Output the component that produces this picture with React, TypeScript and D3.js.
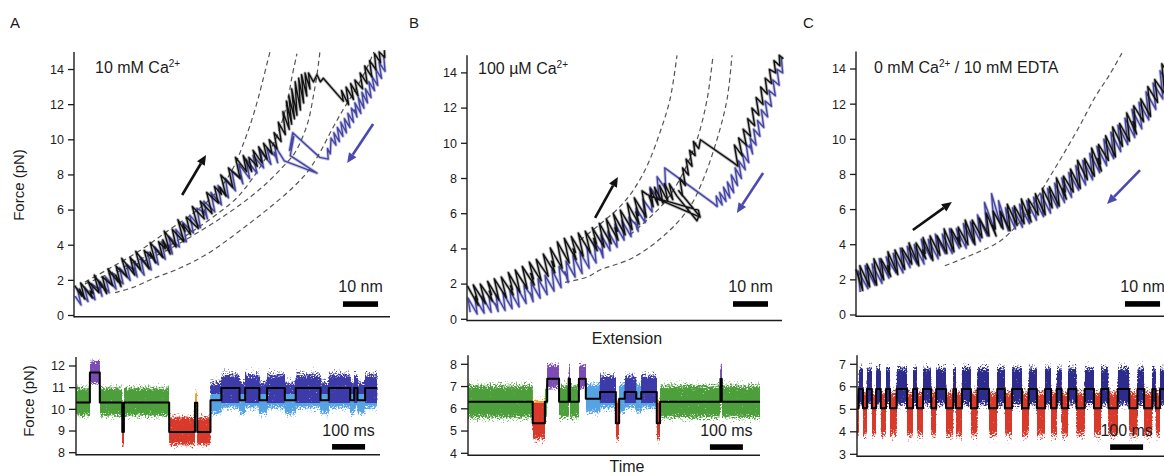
import React from "react";
import * as d3 from "d3";

type Pt = [number, number];
type Dwell = [number, number, string];

// ================= TOP PANELS: force (pN) vs extension (nm) =================
const forceTicksTop = [0, 2, 4, 6, 8, 10, 12, 14];

// Panel A — stretching (black) and relaxing (blue) traces
const A_stretch: Pt[] = [
  [0.2,1.7],[2.2,1.1],[1.6,1.5],[3.0,0.95],[1.9,1.85],[5.2,1.0],[4.6,1.4],[5.4,1.25],[4.0,1.95],[7.1,1.3],
  [5.8,2.3],[8.0,1.6],[7.4,1.9],[9.3,1.25],[8.1,2.2],[11.0,1.7],[9.7,2.65],[12.6,1.9],[11.9,2.3],[13.4,1.65],
  [12.0,2.8],[15.1,2.2],[13.6,3.25],[17.3,2.3],[16.6,2.7],[17.0,2.5],[16.0,3.3],[19.0,2.6],[17.6,3.65],[21.4,2.65],
  [20.0,3.7],[22.2,3.3],[21.7,3.6],[23.2,3.0],[21.7,4.15],[25.3,3.3],[24.1,4.2],[26.0,3.8],[25.3,4.3],[27.4,3.5],
  [25.7,4.8],[29.1,3.9],[28.0,4.9],[31.3,4.2],[29.6,5.45],[31.6,4.8],[31.0,5.2],[33.2,4.6],[32.0,5.6],[35.4,4.95],
  [33.7,6.2],[37.1,5.5],[36.6,5.9],[37.0,5.7],[36.0,6.5],[39.3,5.8],[37.8,7.0],[41.1,6.4],[40.0,7.35],[42.0,6.9],
  [41.5,7.3],[43.3,6.8],[41.8,8.0],[45.2,7.3],[44.0,8.4],[47.3,7.8],[46.0,9.0],[49.1,8.2],[48.2,9.1],[50.6,8.2],
  [49.8,9.0],[52.2,8.5],[51.0,9.4],[53.5,8.7],[52.6,9.6],[55.0,8.9],[54.0,9.8],[56.4,9.2],[55.6,10.0],[57.8,9.5],
  [57.0,10.4],[59.0,9.9],[58.2,11.0],[60.2,10.3],[59.5,11.6],[61.3,10.6],[60.5,12.2],[62.0,10.9],[61.2,12.5],[62.8,11.2],
  [62.0,12.9],[63.5,11.4],[63.0,13.3],[64.5,11.7],[64.0,13.5],[65.4,12.1],[64.8,13.7],[66.3,12.5],[65.8,13.8],[67.2,12.9],
  [66.8,13.8],[68.2,13.3],[69.2,13.7],[70.2,13.3],[71.0,13.5],[76.7,12.2],[76.2,12.8],[78.2,12.0],[77.5,13.0],[79.6,12.3],
  [78.8,13.2],[80.9,12.5],[80.0,13.4],[82.2,12.9],[81.5,13.8],[83.5,13.2],[82.8,14.2],[84.8,13.6],[84.2,14.5],[86.0,14.0],
  [85.6,14.9],[87.3,14.4],[86.9,15.0],[88.5,14.7],[88.4,15.1],
];
const A_relax: Pt[] = [
  [88.2,14.8],[88.6,13.9],[86.9,14.4],[87.6,13.5],[86.0,14.0],[86.5,13.1],[84.9,13.6],[85.6,12.8],[84.0,13.3],[84.6,12.4],
  [83.0,12.9],[83.6,12.1],[82.0,12.7],[82.6,11.8],[81.0,12.4],[81.7,11.5],[80.0,12.1],[80.6,11.3],[79.9,11.7],[80.3,11.5],
  [79.0,11.8],[79.6,11.0],[78.0,11.5],[78.6,10.7],[77.0,11.2],[77.6,10.4],[76.0,11.0],[76.6,10.2],[75.0,10.7],[75.6,9.9],
  [74.0,10.4],[74.6,9.7],[73.2,10.1],[73.0,9.2],[72.2,9.5],[72.4,8.9],[70.0,9.0],[62.3,10.4],[61.4,9.4],[62.6,10.2],
  [61.6,9.1],[69.2,8.1],[59.9,8.8],[57.1,9.7],[58.0,8.7],[57.0,9.3],[57.6,9.0],[55.0,9.5],[56.1,8.6],[53.0,9.4],
  [54.0,8.4],[51.0,9.1],[52.1,8.1],[49.0,8.9],[50.0,7.8],[47.0,8.6],[48.1,7.5],[47.2,8.0],[47.8,7.8],[45.0,8.2],
  [46.0,7.1],[43.1,7.8],[44.0,6.7],[41.0,7.4],[42.0,6.3],[39.0,7.0],[40.1,5.9],[37.0,6.5],[38.0,5.5],[37.1,6.0],
  [37.7,5.8],[35.0,6.1],[36.0,5.0],[33.0,5.7],[34.0,4.7],[31.0,5.3],[32.0,4.2],[29.0,4.9],[30.0,3.9],[27.0,4.5],
  [28.0,3.5],[27.1,4.0],[27.7,3.8],[25.0,4.2],[26.0,3.2],[23.0,3.9],[24.0,2.9],[21.0,3.6],[22.0,2.6],[19.0,3.3],
  [20.0,2.3],[17.0,3.1],[18.0,2.2],[17.1,2.7],[17.7,2.5],[15.0,2.9],[16.0,2.0],[13.0,2.7],[14.0,1.8],[11.0,2.4],
  [12.0,1.5],[9.0,2.2],[10.0,1.3],[7.0,2.0],[8.0,1.1],[7.1,1.6],[7.7,1.4],[5.0,1.8],[6.0,0.9],[3.0,1.6],
  [4.0,0.8],[1.0,1.5],[2.0,0.6],[0.3,1.1],
];
const A_wlc1: Pt[] = [[3.1,1.9],[10.3,2.7],[18.8,3.7],[27.3,4.9],[34.5,5.9],[39.6,6.8],[43.3,7.7],[46.1,8.7],[48.1,9.7],[50.1,10.8],[52.1,12.1],[53.8,13.4],[55.8,15.0]];
const A_wlc2: Pt[] = [[3.1,1.8],[10.3,2.4],[18.8,3.2],[27.3,4.0],[35.3,5.0],[41.6,5.9],[46.4,6.7],[50.1,7.6],[53.5,8.6],[56.4,9.6],[58.7,10.7],[60.7,12.1],[62.1,13.6],[63.5,14.9]];
const A_wlc3: Pt[] = [[10.3,2.3],[18.8,3.0],[27.3,3.8],[35.9,4.8],[43.0,5.7],[49.3,6.6],[54.7,7.5],[59.2,8.4],[62.7,9.2],[65.2,10.2],[66.9,11.2],[68.1,12.4],[69.2,13.7],[70.1,15.1]];
const A_wlc4: Pt[] = [[11.7,1.3],[16.8,1.6],[22.5,2.1],[30.2,2.7],[37.9,3.5],[44.4,4.4],[51.0,5.4],[56.7,6.3],[62.4,7.3],[66.6,8.2],[70.1,9.3],[73.5,10.6],[76.6,11.7],[80.0,12.8],[83.2,14.0],[85.4,15.0]];
const A_arrowStretch: Pt[] = [[30.8,6.86],[37.6,9.14]];
const A_arrowRelax: Pt[] = [[85.2,10.9],[77.8,8.68]];

// Panel B
const B_stretch: Pt[] = [
  [0.1,1.9],[3.2,0.8],[2.4,1.3],[3.0,1.1],[1.8,1.95],[5.2,0.9],[3.8,2.0],[7.2,1.05],[6.4,1.6],[7.0,1.4],
  [5.9,2.15],[9.1,1.1],[7.8,2.3],[11.2,1.25],[9.8,2.4],[13.2,1.4],[12.4,1.9],[13.0,1.7],[11.8,2.65],[15.1,1.55],
  [13.8,2.8],[17.2,1.75],[15.8,3.0],[19.2,1.95],[18.2,2.6],[19.0,2.3],[17.8,3.25],[21.2,2.2],[19.8,3.4],[23.2,2.45],
  [21.8,3.7],[25.1,2.65],[24.2,3.3],[25.0,3.0],[23.8,4.05],[27.2,2.9],[25.8,4.4],[29.2,3.2],[27.8,4.6],[31.2,3.4],
  [30.3,4.0],[31.0,3.8],[29.8,4.7],[33.2,3.6],[31.8,4.9],[35.2,3.8],[33.8,5.0],[37.2,3.9],[36.2,4.6],[37.0,4.3],
  [35.8,5.2],[39.2,4.1],[37.8,5.45],[41.2,4.3],[39.8,5.7],[43.2,4.5],[42.3,5.2],[43.0,5.0],[41.8,6.0],[45.2,4.8],
  [43.8,6.2],[47.2,5.1],[45.8,6.6],[49.2,5.4],[48.3,6.1],[49.0,5.9],[47.8,6.9],[51.2,5.8],[50.0,7.3],[51.4,7.1],
  [66.6,5.8],[66.1,6.2],[52.0,7.0],[53.2,6.4],[52.4,7.4],[54.6,6.5],[53.6,7.5],[56.0,6.6],[55.0,7.6],[57.4,6.7],
  [56.4,7.7],[58.8,6.8],[57.8,7.7],[60.0,7.0],[65.7,5.6],[66.3,5.9],[60.5,7.3],[61.6,7.0],[60.8,8.0],[62.4,7.6],
  [61.6,8.6],[63.3,8.2],[62.6,9.1],[64.3,8.7],[63.6,9.6],[65.2,9.3],[64.7,10.1],[66.2,9.7],[66.7,10.2],[76.1,8.9],
  [77.4,8.7],[76.4,9.9],[78.6,9.3],[77.6,10.3],[79.8,9.9],[78.9,10.8],[81.0,10.4],[80.2,11.4],[82.2,11.0],[81.4,12.0],
  [83.4,11.6],[82.6,12.6],[84.6,12.2],[83.9,13.2],[85.8,12.8],[85.2,13.7],[87.0,13.4],[86.4,14.2],[88.2,14.0],[87.7,14.7],
  [89.4,14.4],[89.2,15.0],[90.4,14.8],
];
const B_relax: Pt[] = [
  [89.8,14.9],[90.2,14.0],[88.6,14.2],[89.2,13.3],[87.4,13.6],[88.1,12.7],[86.3,13.0],[87.0,12.1],[85.2,12.4],[85.9,11.5],
  [84.1,11.9],[84.8,10.9],[83.0,11.3],[83.7,10.4],[81.9,10.8],[82.6,9.9],[80.9,10.3],[81.6,9.4],[80.8,9.9],[81.3,9.7],
  [79.8,9.9],[80.5,8.9],[78.7,9.4],[79.5,8.5],[77.6,9.0],[78.4,8.0],[76.6,8.6],[77.3,7.6],[75.5,8.2],[76.2,7.2],
  [74.4,7.8],[75.1,6.9],[73.3,7.5],[74.0,6.7],[72.2,7.2],[72.9,6.5],[71.2,7.0],[71.5,6.4],[70.3,6.6],[56.5,8.6],
  [56.8,7.4],[54.3,8.1],[54.9,6.8],[52.3,7.5],[52.9,6.1],[50.3,6.8],[50.9,5.5],[48.3,6.3],[48.9,5.0],[48.0,5.5],
  [48.6,5.3],[46.3,5.8],[46.9,4.7],[44.3,5.6],[44.9,4.5],[42.3,5.4],[42.9,4.1],[40.3,5.0],[40.9,3.9],[38.3,4.8],
  [38.9,3.5],[38.0,4.0],[38.6,3.8],[36.3,4.4],[36.9,3.2],[34.3,4.1],[34.9,2.9],[32.3,3.8],[32.9,2.6],[30.3,3.6],
  [30.9,2.4],[28.3,3.3],[28.9,2.1],[28.0,2.7],[28.6,2.4],[26.3,3.0],[26.9,1.8],[24.3,2.8],[24.9,1.6],[22.3,2.5],
  [22.9,1.4],[20.3,2.3],[20.9,1.2],[18.3,2.1],[18.9,1.0],[18.0,1.5],[18.6,1.3],[16.3,1.9],[16.9,0.9],[14.3,1.8],
  [14.9,0.7],[12.3,1.6],[12.9,0.6],[10.3,1.5],[10.9,0.5],[8.3,1.4],[8.9,0.45],[8.0,0.9],[8.6,0.7],[6.3,1.3],
  [6.9,0.4],[4.3,1.3],[4.9,0.35],[2.3,1.2],[2.9,0.3],[0.3,1.2],[0.9,0.4],
];
const B_wlc1: Pt[] = [[32.3,4.5],[38.0,5.4],[43.7,6.4],[47.4,7.3],[51.4,8.7],[55.1,10.6],[58.0,12.5],[60.0,15.0]];
const B_wlc2: Pt[] = [[46.6,4.8],[52.3,5.8],[57.1,6.8],[61.7,8.3],[65.7,10.2],[68.6,12.5],[70.3,15.0]];
const B_wlc3: Pt[] = [[28.0,2.1],[34.3,2.4],[38.0,2.8],[47.4,3.5],[57.1,4.9],[63.7,6.4],[67.4,7.9],[71.4,10.2],[74.3,12.5],[75.7,15.0]];
const B_arrowStretch: Pt[] = [[36.6,5.76],[43.1,8.09]];
const B_arrowRelax: Pt[] = [[84.6,8.31],[77.1,6.04]];

// Panel C
const C_stretch: Pt[] = [
  [0.0,2.6],[1.9,1.4],[1.1,2.8],[3.9,1.6],[3.1,2.9],[5.9,1.7],[5.1,3.2],[7.9,2.0],[7.1,3.2],[9.9,2.2],
  [9.0,2.8],[9.6,2.6],[9.1,3.6],[11.9,2.3],[11.1,3.7],[13.9,2.6],[13.1,3.8],[15.9,2.9],[15.1,4.1],[17.9,2.8],
  [17.1,4.1],[19.9,3.2],[19.0,3.7],[19.7,3.5],[19.1,4.4],[21.9,3.1],[21.1,4.5],[23.9,3.4],[23.1,4.5],[25.9,3.5],
  [25.1,4.9],[27.9,3.6],[27.1,4.9],[29.9,3.9],[29.0,4.4],[29.6,4.2],[29.1,5.0],[31.9,4.0],[31.1,5.4],[33.9,4.0],
  [33.1,5.4],[35.9,4.4],[35.1,5.5],[37.9,4.5],[37.1,5.8],[39.9,4.5],[39.0,5.1],[39.7,4.9],[39.1,5.9],[41.9,4.9],
  [41.1,5.9],[43.9,4.8],[43.1,6.3],[45.9,5.1],[45.1,6.2],[47.9,5.2],[47.1,6.6],[49.9,5.3],[49.0,6.0],[49.6,5.8],
  [49.1,6.6],[51.9,5.7],[51.1,6.9],[53.9,5.7],[53.1,7.2],[55.9,6.1],[55.1,7.3],[57.9,6.2],[57.1,7.8],[59.9,6.6],
  [59.0,7.2],[59.6,7.0],[59.1,7.9],[61.9,7.0],[61.1,8.3],[63.9,7.2],[63.1,8.8],[65.9,7.7],[65.1,8.9],[67.9,7.9],
  [67.1,9.5],[69.9,8.2],[69.0,8.9],[69.6,8.6],[69.1,9.7],[71.9,8.8],[71.1,10.2],[73.9,9.0],[73.1,10.7],[75.9,9.6],
  [75.1,10.9],[77.9,9.9],[77.1,11.5],[79.9,10.3],[79.0,11.0],[79.6,10.7],[79.1,11.9],[81.9,11.0],[81.1,12.3],[83.9,11.3],
  [83.1,13.0],[85.9,12.1],[85.1,13.4],[87.9,12.6],[87.1,14.3],[89.9,13.4],
];
const C_relax: Pt[] = [
  [1.2,1.3],[0.6,2.5],[3.4,1.5],[2.6,2.8],[5.4,1.7],[4.6,2.9],[7.4,1.8],[6.6,3.2],[9.4,2.1],[8.8,2.7],
  [9.5,2.5],[8.6,3.3],[11.4,2.4],[10.6,3.5],[13.4,2.4],[12.6,3.8],[15.4,2.7],[14.6,3.9],[17.4,2.9],[16.6,4.0],
  [19.4,2.9],[18.8,3.6],[19.5,3.3],[18.6,4.3],[21.4,3.2],[20.6,4.3],[23.4,3.2],[22.6,4.6],[25.4,3.5],[24.6,4.6],
  [27.4,3.5],[26.6,4.9],[29.4,3.8],[28.8,4.4],[29.5,4.1],[28.6,4.9],[31.4,3.8],[30.6,5.2],[33.4,4.1],[32.6,5.3],
  [35.4,4.2],[34.6,5.7],[37.4,4.5],[36.6,6.4],[39.4,4.9],[38.6,6.9],[41.4,5.0],[40.6,6.5],[43.4,4.8],[42.6,6.1],
  [45.4,4.9],[44.6,6.1],[47.4,5.0],[46.6,6.3],[49.4,5.2],[48.8,5.9],[49.5,5.6],[48.6,6.5],[51.4,5.4],[50.6,6.7],
  [53.4,5.6],[52.6,6.9],[55.4,5.8],[54.6,7.2],[57.4,6.1],[56.6,7.5],[59.4,6.4],[58.8,7.1],[59.5,6.8],[58.6,7.8],
  [61.4,6.7],[60.6,8.1],[63.4,7.1],[62.6,8.5],[65.4,7.4],[64.6,8.8],[67.4,7.7],[66.6,9.2],[69.4,8.1],[68.8,8.9],
  [69.5,8.6],[68.6,9.6],[71.4,8.5],[70.6,10.0],[73.4,8.9],[72.6,10.4],[75.4,9.3],[74.6,10.8],[77.4,9.7],[76.6,11.2],
  [79.4,10.1],[78.8,11.0],[79.5,10.6],[78.6,11.7],[81.4,10.6],[80.6,12.1],[83.4,11.1],[82.6,12.7],[85.4,11.7],[84.6,13.2],
  [87.4,12.3],[86.6,13.9],[89.4,13.0],
];
const C_wlc1: Pt[] = [[25.3,2.8],[33.9,3.5],[41.0,4.2],[46.7,5.3],[51.0,6.5],[55.3,7.9],[59.5,9.3],[63.8,10.8],[68.1,12.4],[72.3,13.7],[76.0,15.0]];
const C_arrowStretch: Pt[] = [[16.2,4.84],[27.3,6.43]];
const C_arrowRelax: Pt[] = [[80.9,8.25],[71.5,6.32]];

// ================= BOTTOM PANELS: force (pN) vs time (ms) =================
const A_ticksBottom = [8, 9, 10, 11, 12];
const A_stateNames = ["g", "p", "r", "o", "lb", "db"];
const A_stateLevel = [10.32, 11.7, 8.95, 10.3, 10.42, 10.98];
const A_stateLow = [9.3, 10.85, 7.95, 9.35, 9.35, 9.6];
const A_stateHigh = [11.4, 12.55, 10.05, 11.15, 11.7, 12.1];
const A_dwells: Dwell[] = [
  [0,42,"g"],[42,72,"p"],[72,140,"g"],[140,145,"r"],[145,282,"g"],[282,360,"r"],[360,367,"o"],[367,407,"r"],
  [407,440,"lb"],[440,495,"db"],[495,512,"lb"],[512,555,"db"],[555,578,"lb"],[578,632,"db"],[632,665,"lb"],
  [665,740,"db"],[740,765,"lb"],[765,830,"db"],[830,842,"lb"],[842,852,"db"],[852,875,"lb"],[875,912,"db"],
];

const B_ticksBottom = [4, 5, 6, 7, 8];
const B_stateNames = ["g", "r", "p", "lb", "db"];
const B_stateLevel = [6.32, 5.35, 7.35, 6.45, 6.75];
const B_stateLow = [5.15, 4.1, 6.6, 5.45, 5.6];
const B_stateHigh = [7.5, 6.85, 8.3, 7.5, 7.95];
const B_dwells: Dwell[] = [
  [0,196,"g"],[196,233,"r"],[233,240,"g"],[240,276,"p"],[276,305,"g"],[305,309,"p"],[309,336,"g"],[336,357,"p"],
  [357,400,"lb"],[400,448,"db"],[448,458,"r"],[458,475,"lb"],[475,510,"db"],[510,525,"lb"],[525,572,"db"],
  [572,582,"r"],[582,765,"g"],[765,769,"p"],[769,885,"g"],
];

const C_ticksBottom = [3, 4, 5, 6, 7];
const C_stateNames = ["r", "n"];
const C_stateLevel = [5.05, 5.9];
const C_stateLow = [3.25, 4.7];
const C_stateHigh = [6.35, 7.35];
const C_dwells: Dwell[] = [
  [0,5,"r"],[5,18,"n"],[18,30,"r"],[30,45,"n"],[45,58,"r"],[58,72,"n"],[72,88,"r"],[88,100,"n"],[100,120,"r"],
  [120,152,"n"],[152,170,"r"],[170,182,"n"],[182,200,"r"],[200,225,"n"],[225,240,"r"],[240,270,"n"],[270,292,"r"],
  [292,300,"n"],[300,318,"r"],[318,345,"n"],[345,365,"r"],[365,400,"n"],[400,425,"r"],[425,448,"n"],[448,470,"r"],
  [470,500,"n"],[500,520,"r"],[520,545,"n"],[545,570,"r"],[570,588,"n"],[588,605,"r"],[605,620,"n"],[620,640,"r"],
  [640,665,"n"],[665,690,"r"],[690,718,"n"],[718,740,"r"],[740,762,"n"],[762,790,"r"],[790,825,"n"],[825,850,"r"],
  [850,870,"n"],[870,895,"r"],[895,905,"n"],[905,918,"r"],[918,935,"n"],
];

// ================= styles & layout =================
const FONT = "'Liberation Sans', Arial, Helvetica, sans-serif";
const INK = "#1c1c1c";
const BLUE_TRACE = "#4646a2";
const COL = {
  green: "#4c9f3b", purple: "#7c4cb4", red: "#d8392b", orange: "#f0a22e",
  lightBlue: "#56a3e3", darkBlue: "#3c3ba8", navy: "#2d2b8c",
};
type StateStyle = { top: string; bottom: string; split: number };
const A_styles: Record<string, StateStyle> = {
  g: { top: COL.green, bottom: COL.green, split: 0.5 },
  p: { top: COL.purple, bottom: COL.purple, split: 0.5 },
  r: { top: COL.red, bottom: COL.red, split: 0.5 },
  o: { top: COL.orange, bottom: COL.orange, split: 0.5 },
  lb: { top: COL.darkBlue, bottom: COL.lightBlue, split: 0.42 },
  db: { top: COL.darkBlue, bottom: COL.lightBlue, split: 0.72 },
};
const B_styles: Record<string, StateStyle> = {
  g: { top: COL.green, bottom: COL.green, split: 0.5 },
  r: { top: COL.orange, bottom: COL.red, split: 0.22 },
  p: { top: COL.purple, bottom: COL.purple, split: 0.5 },
  lb: { top: COL.lightBlue, bottom: COL.lightBlue, split: 0.5 },
  db: { top: COL.darkBlue, bottom: COL.lightBlue, split: 0.72 },
};
const C_styles: Record<string, StateStyle> = {
  r: { top: COL.red, bottom: COL.red, split: 0.5 },
  n: { top: COL.navy, bottom: COL.navy, split: 0.5 },
};

type TopCfg = {
  id: string; x0: number; pxPerNm: number; y0: number; pxPerPN: number;
  letterX: number; condX: number; condY: number; barNm: number; barF: number;
};
const TOP_CFG: TopCfg[] = [
  { id: "A", x0: 74, pxPerNm: 3.511, y0: 315.5, pxPerPN: 17.57, letterX: 10, condX: 95, condY: 73, barNm: 76.6, barF: 0.65 },
  { id: "B", x0: 467, pxPerNm: 3.5, y0: 319.3, pxPerPN: 17.6, letterX: 409, condX: 478, condY: 74, barNm: 76, barF: 0.87 },
  { id: "C", x0: 856, pxPerNm: 3.511, y0: 315, pxPerPN: 17.57, letterX: 803, condX: 874, condY: 73, barNm: 76.6, barF: 0.63 },
];
type BotCfg = {
  id: string; x0: number; pxPerMs: number; tMax: number; f0: number; yAt0: number; pxPerPN: number;
  barT: number; barF: number; axisEnd: number;
};
const BOT_CFG: BotCfg[] = [
  { id: "A", x0: 76, pxPerMs: 0.3304, tMax: 920, f0: 8, yAt0: 452.7, pxPerPN: 21.68, barT: 775, barF: 8.27, axisEnd: 380 },
  { id: "B", x0: 468, pxPerMs: 0.33, tMax: 885, f0: 4, yAt0: 453.3, pxPerPN: 22.25, barT: 733, barF: 4.28, axisEnd: 760 },
  { id: "C", x0: 857, pxPerMs: 0.33, tMax: 950, f0: 3, yAt0: 454.3, pxPerPN: 22.5, barT: 767, barF: 3.32, axisEnd: 1170 },
];

function Arrow({ pts, x, y, color }: { pts: Pt[]; x: (v: number) => number; y: (v: number) => number; color: string }) {
  const x1 = x(pts[0][0]), y1 = y(pts[0][1]), x2 = x(pts[1][0]), y2 = y(pts[1][1]);
  const ang = Math.atan2(y2 - y1, x2 - x1);
  const L = 10, Wd = 4.5;
  const bx = x2 - L * Math.cos(ang), by = y2 - L * Math.sin(ang);
  const px = -Math.sin(ang) * Wd, py = Math.cos(ang) * Wd;
  return (
    <g>
      <line x1={x1} y1={y1} x2={bx} y2={by} stroke={color} strokeWidth={2.6} />
      <polygon points={`${x2},${y2} ${bx + px},${by + py} ${bx - px},${by - py}`} fill={color} />
    </g>
  );
}

function Ca({ pre, post }: { pre: string; post: string }) {
  return (
    <>
      {pre}
      <tspan fontSize={10} dy={-6}>2+</tspan>
      <tspan dy={6}>{post}</tspan>
    </>
  );
}

function Trace({ d, color }: { d: string; color: string }) {
  return (
    <g>
      <path d={d} fill="none" stroke={color} strokeOpacity={0.3} strokeWidth={3.2} strokeLinejoin="round" />
      <path d={d} fill="none" stroke={color} strokeWidth={1.4} strokeLinejoin="round" />
    </g>
  );
}

function TopPanel({ cfg, stretch, relax, wlc, arrowS, arrowR, cond }: {
  cfg: TopCfg; stretch: Pt[]; relax: Pt[]; wlc: Pt[][]; arrowS: Pt[]; arrowR: Pt[]; cond: React.ReactNode;
}) {
  const x = d3.scaleLinear().domain([0, 90]).range([cfg.x0, cfg.x0 + 90 * cfg.pxPerNm]);
  const y = d3.scaleLinear().domain([0, 15]).range([cfg.y0, cfg.y0 - 15 * cfg.pxPerPN]);
  const line = d3.line<Pt>().x((d) => x(d[0])).y((d) => y(d[1]));
  const smooth = d3.line<Pt>().x((d) => x(d[0])).y((d) => y(d[1])).curve(d3.curveCatmullRom.alpha(0.5));
  const bx1 = x(cfg.barNm), bx2 = x(cfg.barNm + 10), by = y(cfg.barF);
  return (
    <g>
      <text x={cfg.letterX} y={28} fontSize={15} fill={INK}>{cfg.id}</text>
      {wlc.map((c, i) => (
        <path key={i} d={smooth(c) || ""} fill="none" stroke="#555" strokeWidth={1.2} strokeDasharray="5,3.5" />
      ))}
      <Trace d={line(relax) || ""} color={BLUE_TRACE} />
      <Trace d={line(stretch) || ""} color="#111" />
      <Arrow pts={arrowS} x={x} y={y} color="#111" />
      <Arrow pts={arrowR} x={x} y={y} color="#4a4ab2" />
      <line x1={x(0)} y1={y(0) + 1.2} x2={x(90)} y2={y(0) + 1.2} stroke={INK} strokeWidth={1.4} />
      <line x1={x(0)} y1={y(0) + 1.9} x2={x(0)} y2={y(15)} stroke={INK} strokeWidth={1.4} />
      {forceTicksTop.map((t) => (
        <g key={t}>
          <line x1={x(0) - 6} x2={x(0)} y1={y(t)} y2={y(t)} stroke={INK} strokeWidth={1.3} />
          <text x={x(0) - 10} y={y(t)} dy="0.35em" textAnchor="end" fontSize={12.5} fill={INK}>{t}</text>
        </g>
      ))}
      <text x={cfg.condX} y={cfg.condY} fontSize={16} fill={INK}>{cond}</text>
      <rect x={bx1} y={by - 2.8} width={bx2 - bx1} height={5.6} fill="#000" />
      <text x={(bx1 + bx2) / 2} y={by - 12} textAnchor="middle" fontSize={16} fill={INK}>10 nm</text>
    </g>
  );
}

function gradStops(s: StateStyle): [number, string, number][] {
  const sp = s.split;
  return [
    [0, s.top, 0.05], [Math.min(0.15, sp), s.top, 0.45], [Math.min(0.3, sp), s.top, 0.95], [sp, s.top, 0.95],
    [sp, s.bottom, 0.95], [Math.max(0.7, sp), s.bottom, 0.95], [Math.max(0.85, sp), s.bottom, 0.45], [1, s.bottom, 0.05],
  ];
}

function BottomPanel({ cfg, names, level, low, high, dwells, styles, ticks }: {
  cfg: BotCfg; names: string[]; level: number[]; low: number[]; high: number[]; dwells: Dwell[];
  styles: Record<string, StateStyle>; ticks: number[];
}) {
  const x = d3.scaleLinear().domain([0, cfg.tMax]).range([cfg.x0, cfg.x0 + cfg.tMax * cfg.pxPerMs]);
  const y = d3.scaleLinear().domain([cfg.f0, cfg.f0 + 4]).range([cfg.yAt0, cfg.yAt0 - 4 * cfg.pxPerPN]);
  const idx = (s: string) => names.indexOf(s);
  const steps: Pt[] = dwells.flatMap(([t0, t1, s]) => [[t0, level[idx(s)]], [t1, level[idx(s)]]] as Pt[]);
  const line = d3.line<Pt>().x((d) => x(d[0])).y((d) => y(d[1]));
  const bx1 = x(cfg.barT), bx2 = x(cfg.barT + 100), by = y(cfg.barF);
  const axisTop = y(cfg.f0 + 4) - 9;
  const fx = cfg.x0 - 4, fy = axisTop - 12, fw = cfg.tMax * cfg.pxPerMs + 10, fh = cfg.yAt0 + 14 - fy;
  return (
    <g>
      <defs>
        {names.map((n) => (
          <linearGradient key={n} id={`g-${cfg.id}-${n}`} x1="0" y1="0" x2="0" y2="1">
            {gradStops(styles[n]).map(([o, c, op], i) => (
              <stop key={i} offset={o} stopColor={c} stopOpacity={op} />
            ))}
          </linearGradient>
        ))}
        <filter id={`speckle-${cfg.id}`} filterUnits="userSpaceOnUse" x={fx} y={fy} width={fw} height={fh}
          colorInterpolationFilters="sRGB">
          <feTurbulence type="fractalNoise" baseFrequency="0.62" numOctaves={2} seed={5} result="noise" />
          <feColorMatrix in="noise" type="matrix" values="0 0 0 0 0  0 0 0 0 0  0 0 0 0 0  1 0 0 0 0" result="nA" />
          <feComposite in="SourceAlpha" in2="nA" operator="arithmetic" k1={0} k2={5} k3={5} k4={-5} result="mask" />
          <feColorMatrix in="SourceGraphic" type="matrix" values="1 0 0 0 0  0 1 0 0 0  0 0 1 0 0  0 0 0 40 0" result="solid" />
          <feComposite in="solid" in2="mask" operator="in" />
        </filter>
      </defs>
      <g filter={`url(#speckle-${cfg.id})`}>
        {dwells.map(([t0, t1, s], i) => {
          const k = idx(s);
          return (
            <rect key={i} x={x(t0) - 0.2} width={Math.max(1.2, x(t1) - x(t0) + 0.4)} y={y(high[k])}
              height={y(low[k]) - y(high[k])} fill={`url(#g-${cfg.id}-${s})`} />
          );
        })}
      </g>
      <path d={line(steps) || ""} fill="none" stroke="#000" strokeWidth={2} strokeLinejoin="round" />
      <line x1={cfg.x0} x2={cfg.axisEnd} y1={cfg.yAt0 + 2} y2={cfg.yAt0 + 2} stroke={INK} strokeWidth={1.4} />
      <line x1={cfg.x0} x2={cfg.x0} y1={cfg.yAt0 + 2.7} y2={axisTop} stroke={INK} strokeWidth={1.4} />
      {ticks.map((t) => (
        <g key={t}>
          <line x1={cfg.x0 - 7} x2={cfg.x0} y1={y(t)} y2={y(t)} stroke={INK} strokeWidth={1.3} />
          <text x={cfg.x0 - 11} y={y(t)} dy="0.35em" textAnchor="end" fontSize={12.5} fill={INK}>{t}</text>
        </g>
      ))}
      <rect x={bx1} y={by - 2.8} width={bx2 - bx1} height={5.6} fill="#000" />
      <text x={(bx1 + bx2) / 2} y={by - 11} textAnchor="middle" fontSize={16} fill={INK}>100 ms</text>
    </g>
  );
}

export default function App() {
  return (
    <svg width={1164} height={476} viewBox="0 0 1164 476"
      style={{ position: "absolute", left: 0, top: 0, background: "#fff", fontFamily: FONT }}>
      <rect x={0} y={0} width={1164} height={476} fill="#fff" />
      <TopPanel cfg={TOP_CFG[0]} stretch={A_stretch} relax={A_relax} wlc={[A_wlc1, A_wlc2, A_wlc3, A_wlc4]}
        arrowS={A_arrowStretch} arrowR={A_arrowRelax} cond={<Ca pre="10 mM Ca" post="" />} />
      <TopPanel cfg={TOP_CFG[1]} stretch={B_stretch} relax={B_relax} wlc={[B_wlc1, B_wlc2, B_wlc3]}
        arrowS={B_arrowStretch} arrowR={B_arrowRelax} cond={<Ca pre="100 µM Ca" post="" />} />
      <TopPanel cfg={TOP_CFG[2]} stretch={C_stretch} relax={C_relax} wlc={[C_wlc1]}
        arrowS={C_arrowStretch} arrowR={C_arrowRelax} cond={<Ca pre="0 mM Ca" post=" / 10 mM EDTA" />} />

      <BottomPanel cfg={BOT_CFG[0]} names={A_stateNames} level={A_stateLevel} low={A_stateLow} high={A_stateHigh}
        dwells={A_dwells} styles={A_styles} ticks={A_ticksBottom} />
      <BottomPanel cfg={BOT_CFG[1]} names={B_stateNames} level={B_stateLevel} low={B_stateLow} high={B_stateHigh}
        dwells={B_dwells} styles={B_styles} ticks={B_ticksBottom} />
      <BottomPanel cfg={BOT_CFG[2]} names={C_stateNames} level={C_stateLevel} low={C_stateLow} high={C_stateHigh}
        dwells={C_dwells} styles={C_styles} ticks={C_ticksBottom} />

      <text transform="translate(18.5,185) rotate(-90)" textAnchor="middle" dominantBaseline="central" fontSize={15} fill={INK}>Force (pN)</text>
      <text transform="translate(28,401) rotate(-90)" textAnchor="middle" dominantBaseline="central" fontSize={15} fill={INK}>Force (pN)</text>
      <text x={627} y={344} textAnchor="middle" fontSize={16} fill={INK}>Extension</text>
      <text x={627} y={472} textAnchor="middle" fontSize={16} fill={INK}>Time</text>
    </svg>
  );
}
